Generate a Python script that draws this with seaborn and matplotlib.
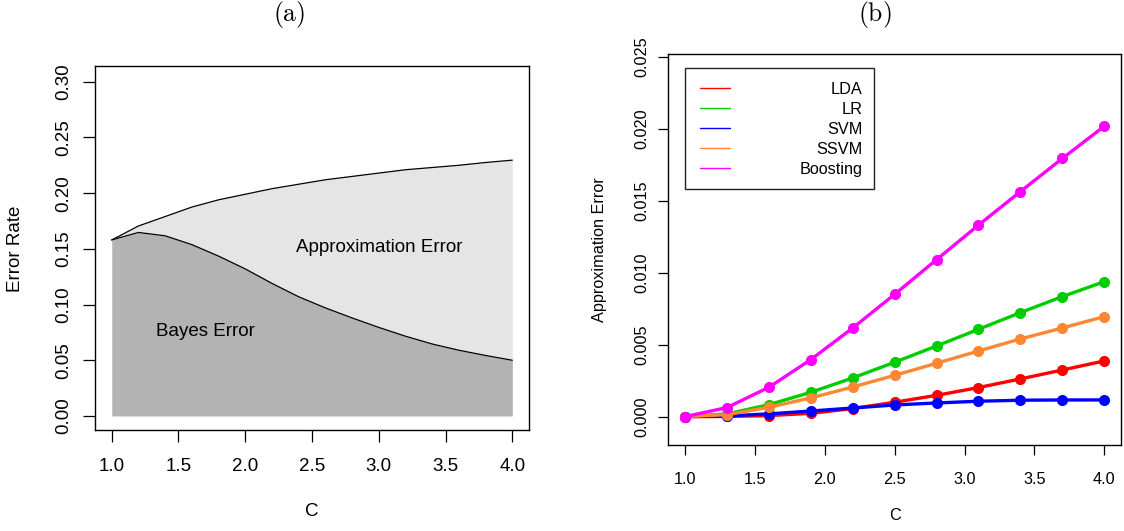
import numpy as np
import pandas as pd
import matplotlib
matplotlib.use("Agg")
import matplotlib.pyplot as plt
import seaborn as sns
from matplotlib.patches import Rectangle

# ---------------- data: panel (a) ----------------
c_a = [1.0, 1.2, 1.4, 1.6, 1.8, 2.0, 2.2, 2.4, 2.6, 2.8, 3.0, 3.2, 3.4, 3.6, 3.8, 4.0]
total_error = [0.158, 0.1705, 0.179, 0.1875, 0.194, 0.199, 0.204, 0.208, 0.212,
               0.215, 0.218, 0.221, 0.223, 0.225, 0.2275, 0.2296]
bayes_error = [0.158, 0.1647, 0.1617, 0.1538, 0.1435, 0.132, 0.119, 0.107, 0.097,
               0.088, 0.0795, 0.0716, 0.0646, 0.059, 0.0543, 0.050]
xticks = [1.0, 1.5, 2.0, 2.5, 3.0, 3.5, 4.0]
xtick_labels = ["1.0", "1.5", "2.0", "2.5", "3.0", "3.5", "4.0"]
yticks_a = [0.00, 0.05, 0.10, 0.15, 0.20, 0.25, 0.30]
ytick_labels_a = ["0.00", "0.05", "0.10", "0.15", "0.20", "0.25", "0.30"]

# ---------------- data: panel (b) ----------------
c_b = [1.0, 1.3, 1.6, 1.9, 2.2, 2.5, 2.8, 3.1, 3.4, 3.7, 4.0]
lda = [0.0, 0.00001, 0.00007, 0.00023, 0.00056, 0.0010, 0.00148, 0.00202, 0.00262, 0.00324, 0.00387]
lr = [0.0, 0.00019, 0.00083, 0.00169, 0.00269, 0.00378, 0.00491, 0.00607, 0.00723, 0.00834, 0.00938]
svm = [0.0, 0.00005, 0.00019, 0.00039, 0.0006, 0.00081, 0.00095, 0.00107, 0.00114, 0.00116, 0.00116]
ssvm = [0.0, 0.00014, 0.00065, 0.0013, 0.00206, 0.00287, 0.00371, 0.00456, 0.0054, 0.00616, 0.00695]
boosting = [0.0, 0.00063, 0.00204, 0.00396, 0.00616, 0.0085, 0.01091, 0.01331, 0.01564, 0.01794, 0.02018]
methods = ["LDA", "LR", "SVM", "SSVM", "Boosting"]
method_colors = ["#FF0000", "#00CD00", "#0000FF", "#FF8633", "#FF00FF"]
yticks_b = [0.000, 0.005, 0.010, 0.015, 0.020, 0.025]
ytick_labels_b = ["0.000", "0.005", "0.010", "0.015", "0.020", "0.025"]

# ---------------- style ----------------
sns.set_theme(style="white")
plt.rcParams["font.family"] = ["Liberation Sans", "DejaVu Sans"]
plt.rcParams["mathtext.fontset"] = "cm"
plt.rcParams["text.color"] = "black"
plt.rcParams["axes.labelcolor"] = "black"
plt.rcParams["xtick.color"] = "black"
plt.rcParams["ytick.color"] = "black"

fig = plt.figure(figsize=(11.24, 5.31), dpi=100)
axA = fig.add_axes([0.0848, 0.1908, 0.3856, 0.6849])
axB = fig.add_axes([0.5943, 0.1620, 0.4033, 0.7363])

fsA = 13.5
fsB = 11.7

# ---------------- panel (a) ----------------
axA.fill_between(c_a, 0, bayes_error, color="#B3B3B3", lw=0, zorder=1)
axA.fill_between(c_a, bayes_error, total_error, color="#E5E5E5", lw=0, zorder=1)
sns.lineplot(x=c_a, y=total_error, color="black", lw=0.9, ax=axA, zorder=2)
sns.lineplot(x=c_a, y=bayes_error, color="black", lw=0.9, ax=axA, zorder=2)
axA.text(3.0, 0.151, "Approximation Error", ha="center", va="center", fontsize=fsA)
axA.text(1.7, 0.076, "Bayes Error", ha="center", va="center", fontsize=fsA)

axA.set_xlim(0.877, 4.123)
axA.set_ylim(-0.0123, 0.3141)
axA.set_xticks(xticks)
axA.set_xticklabels(xtick_labels, fontsize=fsA)
axA.set_yticks(yticks_a)
axA.set_yticklabels(ytick_labels_a, fontsize=fsA, rotation=90, va="center")
axA.tick_params(axis="both", direction="out", length=8.6, width=0.9, colors="black",
                bottom=True, left=True)
axA.tick_params(axis="x", pad=12)
axA.tick_params(axis="y", pad=8)
axA.set_xlabel("C", fontsize=fsA, va="center")
axA.set_ylabel("Error Rate", fontsize=fsA, va="center")
axA.xaxis.set_label_coords(0.5, -0.224)
axA.yaxis.set_label_coords(-0.185, 0.497)

# ---------------- panel (b) ----------------
df = pd.DataFrame({
    "C": c_b * 5,
    "err": lda + lr + svm + ssvm + boosting,
    "method": [m for m in methods for _ in c_b],
})
sns.lineplot(data=df, x="C", y="err", hue="method", hue_order=methods,
             palette=dict(zip(methods, method_colors)), marker="o", markersize=8,
             markeredgewidth=0, lw=2.4, legend=False, ax=axB)

axB.set_xlim(0.878, 4.122)
axB.set_ylim(-0.00197, 0.0252)
axB.set_xticks(xticks)
axB.set_xticklabels(xtick_labels, fontsize=fsB)
axB.set_yticks(yticks_b)
axB.set_yticklabels(ytick_labels_b, fontsize=fsB, rotation=90, va="center")
axB.tick_params(axis="both", direction="out", length=7.2, width=0.9, colors="black",
                bottom=True, left=True)
axB.tick_params(axis="x", pad=12)
axB.tick_params(axis="y", pad=6)
axB.set_xlabel("C", fontsize=fsB, va="center")
axB.set_ylabel("Approximation Error", fontsize=fsB, va="center")
axB.xaxis.set_label_coords(0.5, -0.1816)
axB.yaxis.set_label_coords(-0.152, 0.499)

# manual R-style legend (right-aligned labels)
axB.add_patch(Rectangle((0.0375, 0.6555), 0.4169, 0.3087, transform=axB.transAxes,
                        fill=True, facecolor="white", edgecolor="#222222", lw=1.0, zorder=5))
leg_y = [0.9123, 0.8611, 0.8100, 0.7588, 0.7077]
for m, col, yy in zip(methods, method_colors, leg_y):
    axB.plot([0.0706, 0.1374], [yy, yy], color=col, lw=1.0, transform=axB.transAxes, zorder=6)
    axB.text(0.4295, yy, m, ha="right", va="center_baseline", fontsize=fsB,
             transform=axB.transAxes, zorder=6)

for ax in (axA, axB):
    for s in ax.spines.values():
        s.set_visible(True)
        s.set_color("black")
        s.set_linewidth(1.0)

fig.text(288.8 / 1124, 1 - 15.0 / 531, r"$\mathrm{(a)}$", ha="center", va="center", fontsize=18.5)
fig.text(874.4 / 1124, 1 - 15.0 / 531, r"$\mathrm{(b)}$", ha="center", va="center", fontsize=18.5)

fig.savefig("out.png", dpi=100)
